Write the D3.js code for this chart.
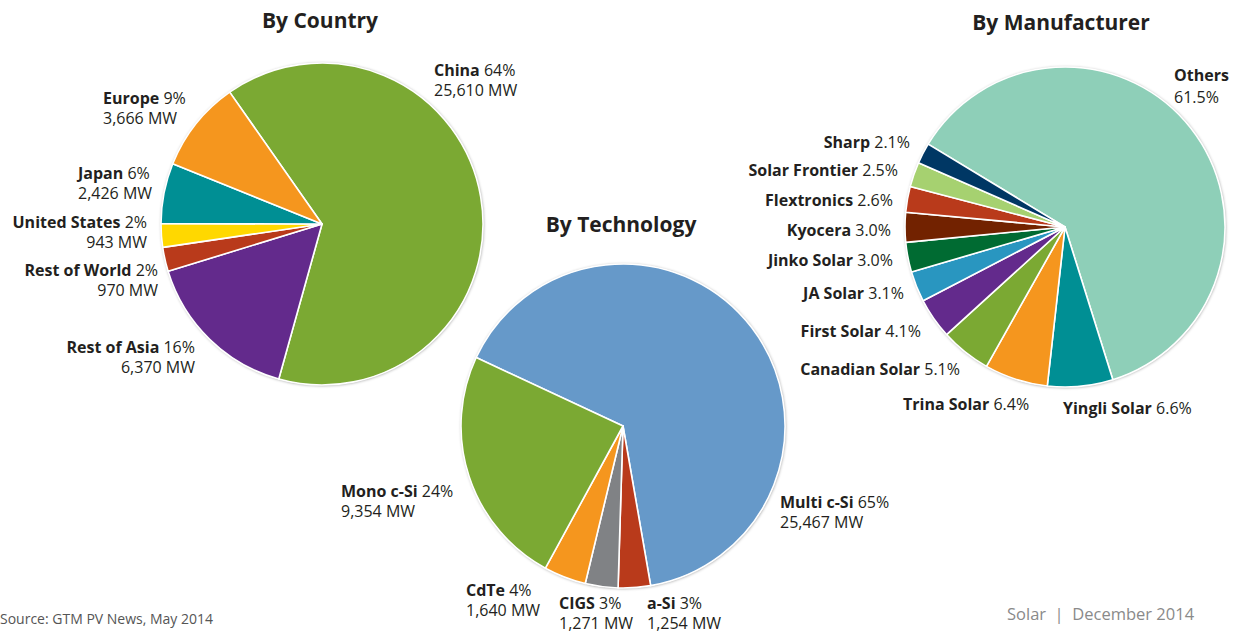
<!DOCTYPE html>
<html lang="en">
<head>
<meta charset="utf-8">
<title>PV Module Production 2013</title>
<script src="https://cdn.jsdelivr.net/npm/d3@7"></script>
<style>
  body { margin: 0; background: #fff; }
  svg text { font-family: "Open Sans", "DejaVu Sans", sans-serif; fill: #231f20; }
  .title { font-size: 21px; font-weight: 700; }
  .lbl { font-size: 16px; }
  .lbl .nm { font-weight: 700; }
  .foot { font-size: 14px; }
</style>
</head>
<body>
<div id="chart"></div>
<script>
// ---- data ----
var countryNames = ["China", "Rest of Asia", "Rest of World", "United States", "Japan", "Europe"];
var countryMW    = [25610, 6370, 970, 943, 2426, 3666];
var countryPct   = ["64%", "16%", "2%", "2%", "6%", "9%"];

var techNames = ["Multi c-Si", "a-Si", "CIGS", "CdTe", "Mono c-Si"];
var techMW    = [25467, 1254, 1271, 1640, 9354];
var techPct   = ["65%", "3%", "3%", "4%", "24%"];

var mfrNames = ["Others", "Yingli Solar", "Trina Solar", "Canadian Solar", "First Solar", "JA Solar",
                "Jinko Solar", "Kyocera", "Flextronics", "Solar Frontier", "Sharp"];
var mfrShare = [61.5, 6.6, 6.4, 5.1, 4.1, 3.1, 3.0, 3.0, 2.6, 2.5, 2.1];

// ---- colours ----
var countryColors = ["#7ba933", "#632a8c", "#b93a1b", "#ffd800", "#008f94", "#f5961e"];
var techColors    = ["#6699c9", "#b93a1b", "#808285", "#f5961e", "#7ba933"];
var mfrColors     = ["#8ecfb8", "#008f94", "#f5961e", "#7ba933", "#632a8c", "#2996c0",
                     "#006b32", "#722200", "#b93a1b", "#a6d170", "#003764"];

// ---- label placement (x, y of first line centre, anchor, line gap) ----
var countryLabelPos = [[434, 70, "start", 20], [195, 347, "end", 20], [158, 270, "end", 20],
                       [147, 222, "end", 20], [78, 173, "start", 20], [103, 98, "start", 20]];
var techLabelPos = [[780, 502, "start", 20], [647, 603, "start", 20], [559, 603, "start", 20],
                    [466, 590, "start", 20], [341, 491, "start", 20]];
var mfrLabelPos = [[1174, 75, "start", 22], [1063, 408, "start"], [903, 404, "start"], [960, 369, "end"],
                   [921, 331, "end"], [904, 293, "end"], [893, 260, "end"], [891, 230, "end"],
                   [893, 200, "end"], [898, 170, "end"], [910, 142, "end"]];

var W = 1236, H = 634;
var svg = d3.select("#chart").append("svg").attr("width", W).attr("height", H);

var defs = svg.append("defs");
var f = defs.append("filter").attr("id", "shadow")
  .attr("x", "-10%").attr("y", "-10%").attr("width", "120%").attr("height", "120%");
f.append("feDropShadow").attr("dx", 0.5).attr("dy", 0.5).attr("stdDeviation", 1.6)
  .attr("flood-color", "#000").attr("flood-opacity", 0.45);

var fmt = d3.format(",");
var deg = Math.PI / 180;

function drawPie(cfg) {
  var pie = d3.pie().sort(null)
    .startAngle(cfg.start * deg).endAngle(cfg.start * deg + 2 * Math.PI);
  var arc = d3.arc().innerRadius(0).outerRadius(cfg.r);
  var g = svg.append("g").attr("transform", "translate(" + cfg.cx + "," + cfg.cy + ")");

  g.append("circle").attr("r", cfg.r).attr("fill", "#fff").attr("filter", "url(#shadow)");
  g.selectAll("path")
    .data(pie(cfg.values))
    .enter()
    .append("path")
    .attr("d", arc)
    .attr("fill", function(d, i) { return cfg.colors[i]; })
    .attr("stroke", "#fff")
    .attr("stroke-width", 1.6)
    .attr("stroke-linejoin", "round");

  svg.append("text").attr("class", "title")
    .attr("x", cfg.titleX).attr("y", cfg.titleY + 7)
    .attr("text-anchor", "middle").text(cfg.title);

  cfg.names.forEach(function(n, i) {
    var p = cfg.labelPos[i];
    var t = svg.append("text").attr("class", "lbl")
      .attr("x", p[0]).attr("y", p[1] + 5.5).attr("text-anchor", p[2]);
    var lines = cfg.lines(i);
    t.append("tspan").attr("class", "nm").text(n);
    t.append("tspan").text(lines[0]);
    if (lines[1]) {
      t.append("tspan").attr("x", p[0]).attr("dy", p[3]).text(lines[1]);
    }
  });
}

drawPie({
  cx: 322, cy: 224, r: 161, start: -35,
  values: countryMW, colors: countryColors, names: countryNames, labelPos: countryLabelPos,
  title: "By Country", titleX: 320, titleY: 21,
  lines: function(i) { return [" " + countryPct[i], fmt(countryMW[i]) + " MW"]; }
});

drawPie({
  cx: 623, cy: 426, r: 162, start: -65,
  values: techMW, colors: techColors, names: techNames, labelPos: techLabelPos,
  title: "By Technology", titleX: 621, titleY: 225,
  lines: function(i) { return [" " + techPct[i], fmt(techMW[i]) + " MW"]; }
});

drawPie({
  cx: 1065, cy: 227, r: 160, start: -58.8,
  values: mfrShare, colors: mfrColors, names: mfrNames, labelPos: mfrLabelPos,
  title: "By Manufacturer", titleX: 1061, titleY: 23,
  lines: function(i) {
    var s = mfrShare[i].toFixed(1) + "%";
    return i === 0 ? ["", s] : [" " + s, null];
  }
});

svg.append("text").attr("class", "foot")
  .attr("x", 0).attr("y", 624).style("fill", "#555").text("Source: GTM PV News, May 2014");
svg.append("text").attr("class", "foot")
  .attr("x", 1007).attr("y", 620).style("fill", "#8a8a8a").style("font-size", "16.5px")
  .attr("xml:space", "preserve")
  .text("Solar  |  December 2014");
</script>
</body>
</html>
